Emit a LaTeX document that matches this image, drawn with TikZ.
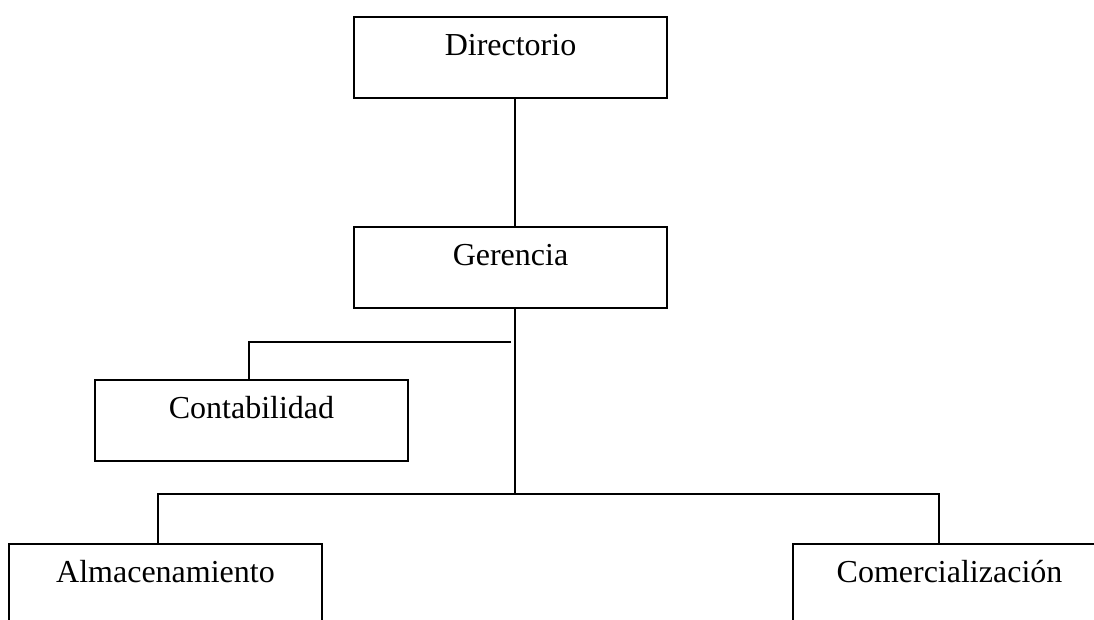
\documentclass[tikz,border=0pt]{standalone}
\usepackage{fontspec}
\setmainfont{Liberation Serif}
\begin{document}
\begin{tikzpicture}[x=1pt,y=-1pt,
  orgbox/.style={draw, line width=1.8pt, minimum width=313pt, inner sep=0pt,
    text height=39pt, text depth=42pt, anchor=north,
    font=\fontsize{32}{38}\selectfont},
  conn/.style={line width=1.8pt}]
\useasboundingbox (0,0) rectangle (1094,619);
\clip (0,0) rectangle (1094,619);
\node[orgbox] (D) at (510.5,16) {Directorio};
\node[orgbox] (G) at (510.5,226) {Gerencia};
\node[orgbox] (C) at (251.5,379) {Contabilidad};
\node[orgbox] (A) at (165.5,543) {Almacenamiento};
\node[orgbox] (M) at (949.5,543) {Comercialización};
\coordinate (trunk) at (515,494);
\coordinate (cbR) at (511,342);
\coordinate (cbL) at (249,342);
\coordinate (hl) at (158,494);
\coordinate (hr) at (939,494);
\draw[conn] (D.south -| trunk) -- (G.north -| trunk);
\draw[conn] (G.south -| trunk) -- (trunk);
\draw[conn] (cbR) -- (cbL) -- (cbL |- C.north);
\draw[conn] (hl |- A.north) -- (hl) -- (hr) -- (hr |- M.north);
\end{tikzpicture}
\end{document}
